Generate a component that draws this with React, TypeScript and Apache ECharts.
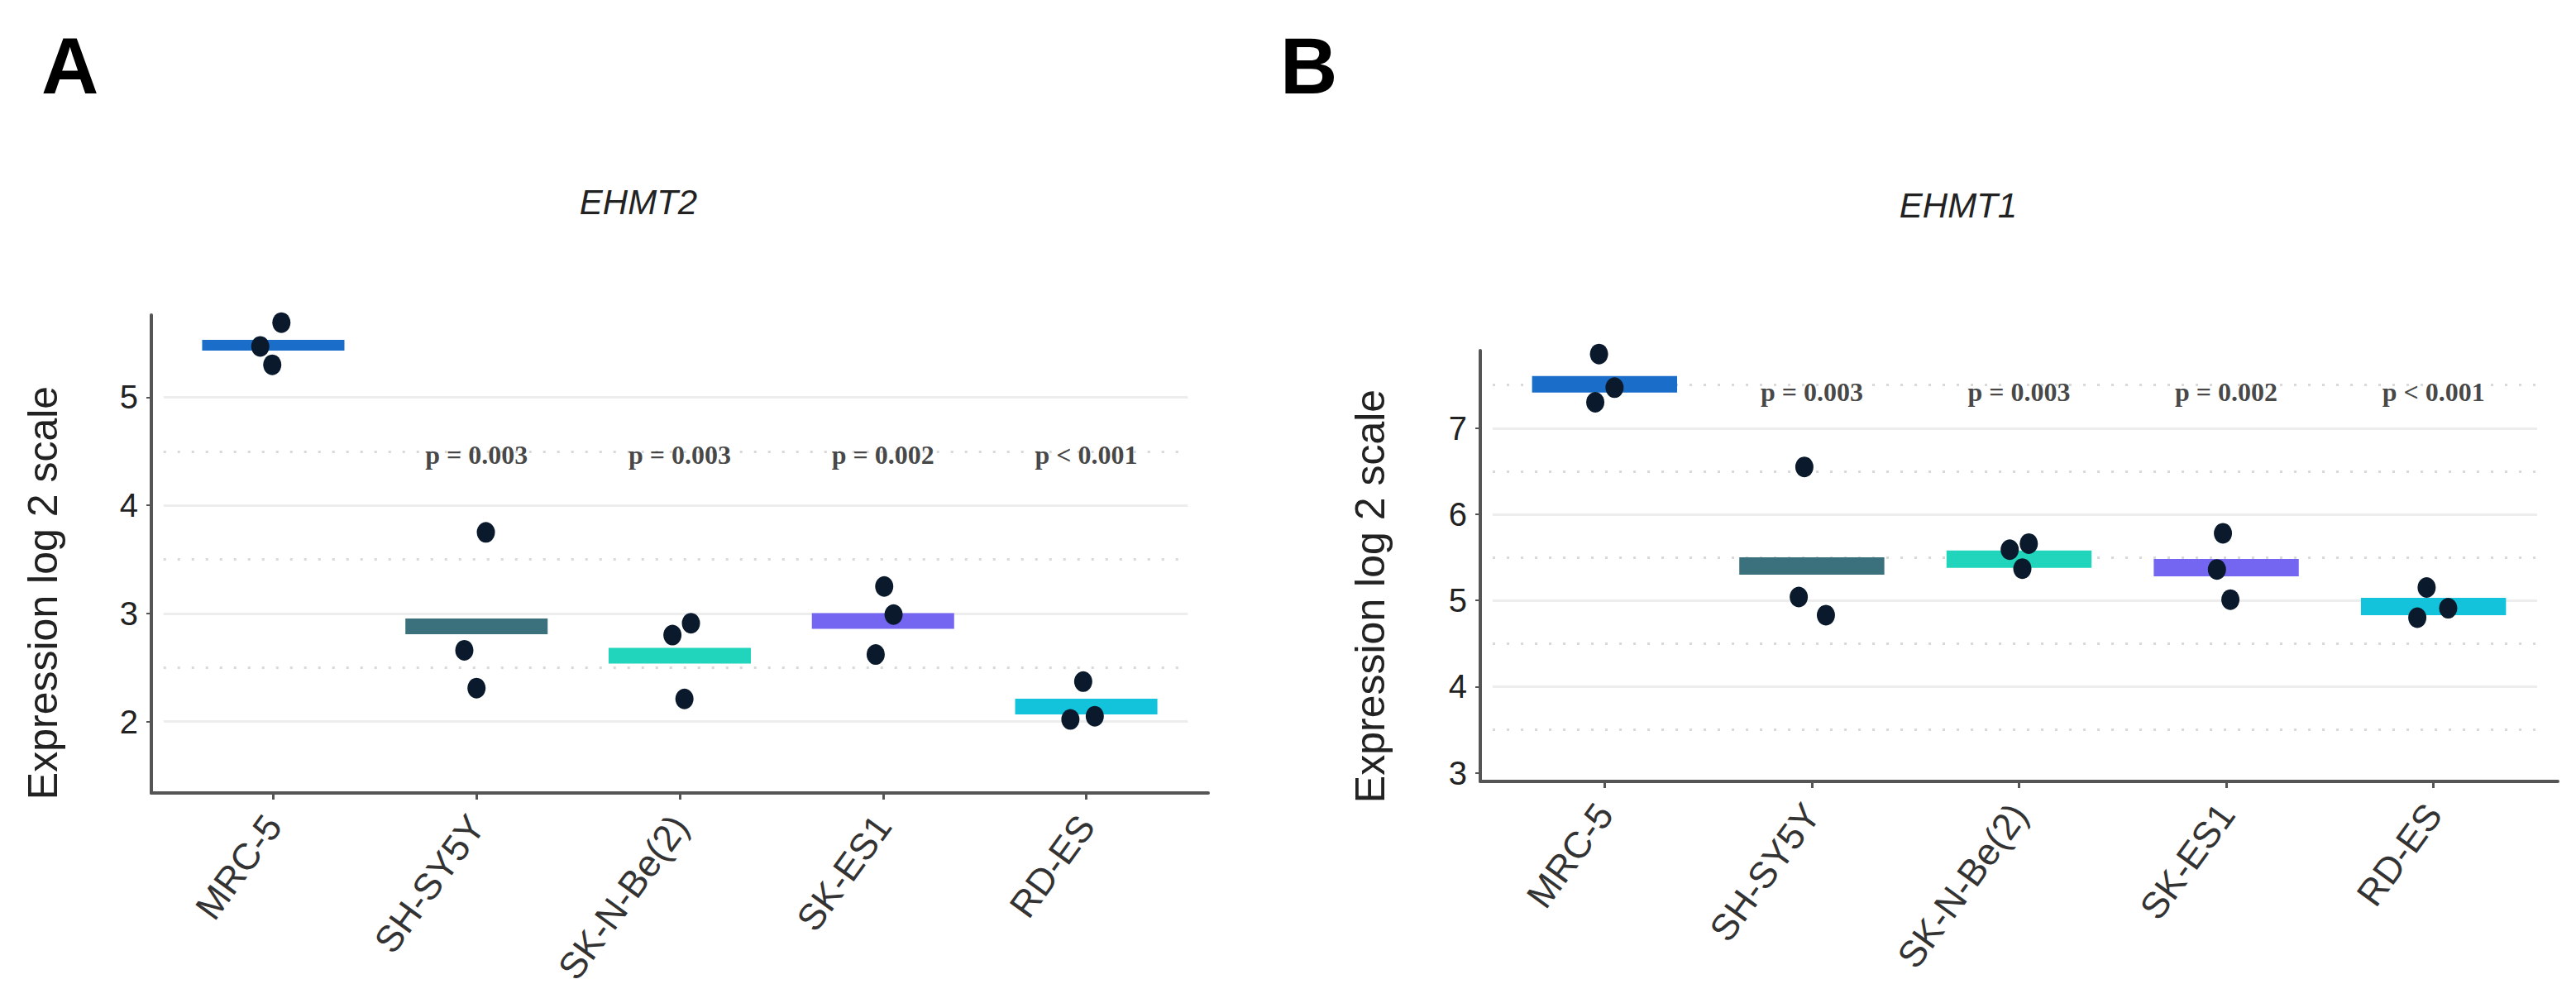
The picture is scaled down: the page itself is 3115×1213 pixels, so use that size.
import React, { useEffect, useRef } from "react";
import * as echarts from "echarts";

const categories = ["MRC-5", "SH-SY5Y", "SK-N-Be(2)", "SK-ES1", "RD-ES"];
const medianColors = ["#1a6ec9", "#3b717c", "#20d5bb", "#7566f2", "#13c3dc"];

// Panel A: EHMT2
const ehmt2Median = [5.48, 2.88, 2.61, 2.93, 2.14];
const ehmt2Points = [
  [5.69, 5.47, 5.3],
  [3.75, 2.66, 2.31],
  [2.91, 2.8, 2.21],
  [3.25, 2.99, 2.62],
  [2.37, 2.02, 2.05],
];
const ehmt2Jitter = [
  [0.04, -0.064, -0.005],
  [0.046, -0.06, 0],
  [0.055, -0.036, 0.023],
  [0.006, 0.052, -0.036],
  [-0.015, -0.078, 0.042],
];

// Panel B: EHMT1
const ehmt1Median = [7.51, 5.4, 5.48, 5.38, 4.93];
const ehmt1Points = [
  [7.86, 7.47, 7.3],
  [6.55, 5.04, 4.83],
  [5.66, 5.59, 5.37],
  [5.78, 5.36, 5.01],
  [5.15, 4.91, 4.8],
];
const ehmt1Jitter = [
  [-0.027, 0.048, -0.045],
  [-0.036, -0.063, 0.068],
  [0.047, -0.045, 0.016],
  [-0.016, -0.045, 0.02],
  [-0.033, 0.071, -0.078],
];

const pLabels = ["", "p = 0.003", "p = 0.003", "p = 0.002", "p < 0.001"];
const pYA = 4.47;
const pYB = 7.42;

const ticksA = [2, 3, 4, 5];
const ticksB = [3, 4, 5, 6, 7];
const solidGridA = [2, 3, 4, 5];
const dottedGridA = [2.5, 3.5, 4.5];
const solidGridB = [4, 5, 6, 7];
const dottedGridB = [3.5, 4.5, 5.5, 6.5, 7.5];

const SANS = "Liberation Sans, Arial, sans-serif";
const SERIF = "Liberation Serif, Times New Roman, serif";

function buildPanel(
  idx: number,
  medians: number[],
  points: number[][],
  jitter: number[][],
  pY: number,
  solid: number[],
  dotted: number[],
  mrcThickness: number,
  otherThickness: number
) {
  const scatterData: number[][] = [];
  points.forEach((arr, i) =>
    arr.forEach((v, k) => scatterData.push([i + jitter[i][k], v]))
  );
  const gridLines = [
    ...solid.map((v) => [
      { coord: [-0.54, v], lineStyle: { type: "solid", color: "#ededed", width: 3 } },
      { coord: [4.5, v] },
    ]),
    ...dotted.map((v) => [
      { coord: [-0.54, v], lineStyle: { type: [3, 14], color: "#d9d9d9", width: 3 } },
      { coord: [4.5, v] },
    ]),
  ];
  return [
    {
      type: "custom",
      xAxisIndex: idx,
      yAxisIndex: idx,
      z: 3,
      data: medians.map((m, i) => [i, m]),
      renderItem: (params: any, api: any) => {
        const i = api.value(0);
        const p = api.coord([i, api.value(1)]);
        const w = api.size([0.7, 0])[0];
        const h = i === 0 ? mrcThickness : otherThickness;
        return {
          type: "rect",
          shape: { x: p[0] - w / 2, y: p[1] - h / 2, width: w, height: h },
          style: { fill: medianColors[i] },
        };
      },
      markLine: {
        silent: true,
        symbol: "none",
        label: { show: false },
        z: 1,
        data: gridLines,
      },
    },
    {
      type: "scatter",
      xAxisIndex: idx,
      yAxisIndex: idx,
      z: 5,
      symbol: "circle",
      symbolSize: [22, 25],
      itemStyle: { color: "#0a1a2c", opacity: 1 },
      data: scatterData,
    },
    {
      type: "scatter",
      xAxisIndex: idx,
      yAxisIndex: idx,
      z: 6,
      symbolSize: 0,
      silent: true,
      label: {
        show: true,
        position: "inside",
        formatter: (d: any) => d.name,
        fontFamily: SERIF,
        fontWeight: "bold",
        fontSize: 32,
        color: "#151515",
      },
      data: pLabels
        .map((t, i) => ({ name: t, value: [i, pY] }))
        .filter((d) => d.name !== ""),
    },
  ];
}

function xAxisDef(idx: number) {
  return {
    type: "value",
    gridIndex: idx,
    min: -0.6,
    max: 4.6,
    splitLine: { show: false },
    axisLine: { show: true, onZero: false, lineStyle: { color: "#555", width: 4 } },
    axisTick: {
      show: true,
      customValues: [0, 1, 2, 3, 4],
      length: 8,
      lineStyle: { color: "#555", width: 3 },
    },
    axisLabel: {
      customValues: [0, 1, 2, 3, 4],
      formatter: (v: number) => categories[Math.round(v)] ?? "",
      rotate: 54,
      margin: 32,
      fontSize: 45,
      fontFamily: SANS,
      color: "#333",
    },
  };
}

function yAxisDef(idx: number, min: number, max: number, ticks: number[]) {
  return {
    type: "value",
    gridIndex: idx,
    min,
    max,
    splitLine: { show: false },
    axisLine: { show: true, onZero: false, lineStyle: { color: "#555", width: 4 } },
    axisTick: {
      show: true,
      customValues: ticks,
      length: 6,
      lineStyle: { color: "#555", width: 2 },
    },
    axisLabel: {
      customValues: ticks,
      margin: 16,
      fontSize: 40,
      fontFamily: SANS,
      color: "#222",
    },
  };
}

export default function App() {
  const ref = useRef<HTMLDivElement>(null);
  useEffect(() => {
    if (!ref.current) return;
    const chart = echarts.init(ref.current, null, { renderer: "svg" });
    const option: any = {
      animation: false,
      backgroundColor: "#ffffff",
      grid: [
        { left: 183, top: 381, width: 1278, height: 578 },
        { left: 1790, top: 424, width: 1303, height: 521 },
      ],
      xAxis: [xAxisDef(0), xAxisDef(1)],
      yAxis: [yAxisDef(0, 1.34, 5.76, ticksA), yAxisDef(1, 2.9, 7.9, ticksB)],
      series: [
        ...buildPanel(0, ehmt2Median, ehmt2Points, ehmt2Jitter, pYA, solidGridA, dottedGridA, 13, 19),
        ...buildPanel(1, ehmt1Median, ehmt1Points, ehmt1Jitter, pYB, solidGridB, dottedGridB, 20, 21),
      ],
      graphic: [
        {
          type: "text",
          x: 50,
          y: 79,
          style: {
            text: "A",
            align: "left",
            verticalAlign: "middle",
            font: "bold 96px " + SANS,
            fill: "#000",
          },
        },
        {
          type: "text",
          x: 1548,
          y: 79,
          style: {
            text: "B",
            align: "left",
            verticalAlign: "middle",
            font: "bold 96px " + SANS,
            fill: "#000",
          },
        },
        {
          type: "text",
          x: 772,
          y: 244,
          style: {
            text: "EHMT2",
            align: "center",
            verticalAlign: "middle",
            font: "italic 42px " + SANS,
            fill: "#222",
          },
        },
        {
          type: "text",
          x: 2368,
          y: 248,
          style: {
            text: "EHMT1",
            align: "center",
            verticalAlign: "middle",
            font: "italic 42px " + SANS,
            fill: "#222",
          },
        },
        {
          type: "text",
          x: 52,
          y: 717,
          rotation: Math.PI / 2,
          style: {
            text: "Expression log 2 scale",
            align: "center",
            verticalAlign: "middle",
            font: "50px " + SANS,
            fill: "#222",
          },
        },
        {
          type: "text",
          x: 1657,
          y: 721,
          rotation: Math.PI / 2,
          style: {
            text: "Expression log 2 scale",
            align: "center",
            verticalAlign: "middle",
            font: "50px " + SANS,
            fill: "#222",
          },
        },
      ],
    };
    chart.setOption(option);
    return () => chart.dispose();
  }, []);
  return (
    <div
      ref={ref}
      style={{ position: "absolute", left: 0, top: 0, width: 3115, height: 1213 }}
    />
  );
}
